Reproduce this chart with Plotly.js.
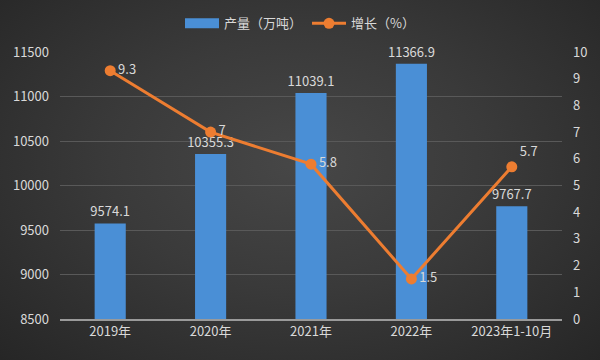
<!DOCTYPE html>
<html><head><meta charset="utf-8">
<script src="https://cdn.plot.ly/plotly-3.0.1.min.js"></script>
<style>
html,body{margin:0;padding:0;}
#chart{width:600px;height:360px;background:radial-gradient(ellipse at 50% 45%, #474747 0%, #3a3a3a 45%, #262626 100%);}
</style></head>
<body><div id="chart"></div>
<script>
const categories = ['2019年','2020年','2021年','2022年','2023年1-10月'];
const output = [9574.1, 10355.3, 11039.1, 11366.9, 9767.7];
const growth = [9.3, 7, 5.8, 1.5, 5.7];
const fontFam = '"Noto Sans CJK SC", "Microsoft YaHei", sans-serif';
const txtCol = '#d9d9d9';

const traces = [
  {type:'scatter', mode:'lines', name:'产量（万吨）', x:[null], y:[null],
   line:{color:'#4a8fd6', width:10}, hoverinfo:'skip'},
  {type:'bar', name:'产量（万吨）', showlegend:false, x:categories, y:output,
   text:output.map(v=>v.toFixed(1)), textposition:'outside', cliponaxis:false, constraintext:'none',
   textfont:{color:txtCol,size:13,family:fontFam},
   marker:{color:'#4a8fd6', line:{width:0}}, width:0.31},
  {type:'scatter', mode:'lines+markers+text', name:'增长（%）', x:categories, y:growth, yaxis:'y2',
   text:growth.map(v=>String(v)), textposition:['middle right','middle right','middle right','middle right','top right'],
   textfont:{color:txtCol,size:13,family:fontFam}, cliponaxis:false,
   line:{color:'#ed7d31', width:3}, marker:{color:'#ed7d31', size:11}}
];
const layout = {
  width:600, height:360,
  margin:{l:60, r:38, t:52, b:41},
  paper_bgcolor:'rgba(0,0,0,0)', plot_bgcolor:'rgba(0,0,0,0)',
  font:{family:fontFam, color:txtCol, size:13},
  showlegend:true,
  legend:{orientation:'h', x:0.5, xanchor:'center', xref:'container', y:0.935, yref:'container', yanchor:'middle', font:{size:13,color:txtCol}, bgcolor:'rgba(0,0,0,0)', itemwidth:34},
  xaxis:{type:'category', showgrid:false, showline:true, linecolor:'#9a9a9a', linewidth:1.5, ticks:'', tickfont:{size:13,color:txtCol}},
  yaxis:{range:[8500,11500], dtick:500, tickformat:'d', showgrid:true, gridcolor:'#595959', gridwidth:1, zeroline:false, ticks:'', tickfont:{size:13,color:txtCol}, ticklabelstandoff:10},
  yaxis2:{overlaying:'y', side:'right', range:[0,10], dtick:1, showgrid:false, zeroline:false, ticks:'', tickfont:{size:13,color:txtCol}, ticklabelstandoff:10},
  bargap:0.69
};
Plotly.newPlot('chart', traces, layout, {displayModeBar:false, staticPlot:true});
</script></body></html>
